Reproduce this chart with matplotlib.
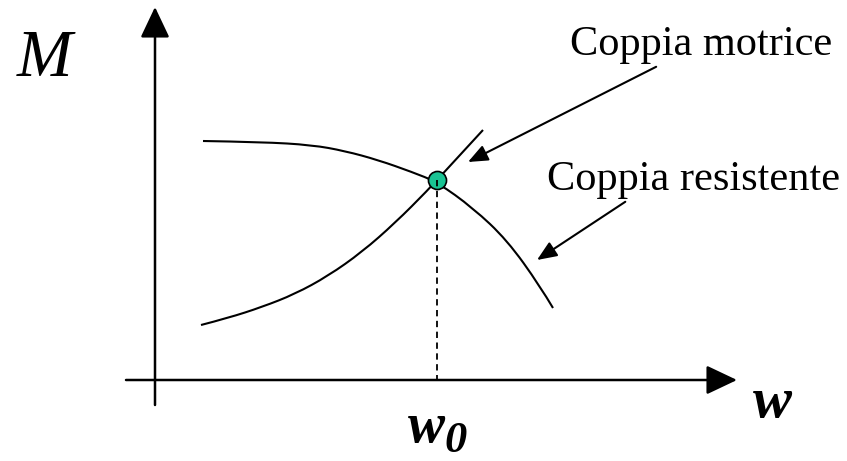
import numpy as np
import matplotlib.pyplot as plt
from matplotlib.path import Path
from matplotlib.patches import PathPatch

# schematic torque curves, origin at axis crossing (units ~ px)
w_res = [48, 107, 157, 190, 223, 257, 282, 318, 352, 385, 398]
M_res = [239, 238, 235, 229, 220, 208, 198, 172, 140, 94, 72]

w_mot = [46, 73, 107, 140, 173, 207, 240, 273, 282]
M_mot = [55, 62, 73, 86, 104, 128, 157, 190, 200]
w_mot_end, M_mot_end = 328, 250

w0, M0 = 282, 200


def smooth_path(xs, ys):
    # quadratic bezier through midpoints, drawn by matplotlib
    pts = list(zip(xs, ys))
    verts = [pts[0]]
    codes = [Path.MOVETO]
    for i in range(1, len(pts) - 1):
        mid = ((pts[i][0] + pts[i + 1][0]) / 2, (pts[i][1] + pts[i + 1][1]) / 2)
        if i == len(pts) - 2:
            mid = pts[i + 1]
        verts += [pts[i], mid]
        codes += [Path.CURVE3, Path.CURVE3]
    return Path(verts, codes)


fig = plt.figure(figsize=(8.47, 4.61), dpi=100)
ax = fig.add_axes([0, 0, 1, 1])
ax.set_xlim(-155, 692)
ax.set_ylim(-81, 380)
ax.axis('off')

serif = ['Liberation Serif', 'DejaVu Serif']

# axes with arrows
ax.annotate('', xy=(0, 373), xytext=(0, -25),
            arrowprops=dict(arrowstyle='-|>,head_length=0.95,head_width=0.45',
                            mutation_scale=20, lw=1.8, color='k', shrinkA=0, shrinkB=0))
ax.annotate('', xy=(582, 0), xytext=(-29, 0),
            arrowprops=dict(arrowstyle='-|>,head_length=0.95,head_width=0.45',
                            mutation_scale=20, lw=1.8, color='k', shrinkA=0, shrinkB=0))

ax.add_patch(PathPatch(smooth_path(w_res, M_res), fc='none', ec='k', lw=1.5))
ax.add_patch(PathPatch(smooth_path(w_mot, M_mot), fc='none', ec='k', lw=1.5))
ax.plot([w0, w_mot_end], [M0, M_mot_end], color='k', lw=1.5, solid_capstyle='butt')

ax.plot([w0], [M0], 'o', ms=13, mfc='#1AC494', mec='k', mew=1.2, zorder=4)
ax.plot([w0, w0], [M0, 0], color='k', lw=1.3, ls=(0, (3.5, 2.5)), zorder=5)

# labels
ax.text(-110, 320, 'M', fontsize=48, style='italic', family=serif, ha='center', va='center')
ax.text(617, -37, 'w', fontsize=42, style='italic', weight='bold', family=serif,
        ha='center', va='baseline')
ax.text(271, -62, 'w', fontsize=40, style='italic', weight='bold', family=serif,
        ha='center', va='baseline')
ax.text(301, -72, '0', fontsize=32, style='italic', weight='bold', family=serif,
        ha='center', va='baseline')

ax.annotate('Coppia motrice', xy=(313, 218), xytext=(546, 325),
            fontsize=30.5, family=serif, ha='center', va='baseline',
            arrowprops=dict(arrowstyle='-|>,head_length=1.2,head_width=0.5',
                            mutation_scale=10, lw=1.5, color='k',
                            shrinkA=0, shrinkB=0, relpos=(0.35, 0)))
ax.annotate('Coppia resistente', xy=(382, 120), xytext=(539, 190),
            fontsize=30.5, family=serif, ha='center', va='baseline',
            arrowprops=dict(arrowstyle='-|>,head_length=1.2,head_width=0.5',
                            mutation_scale=10, lw=1.5, color='k',
                            shrinkA=0, shrinkB=0, relpos=(0.28, 0)))

fig.savefig('out.png', dpi=100)
